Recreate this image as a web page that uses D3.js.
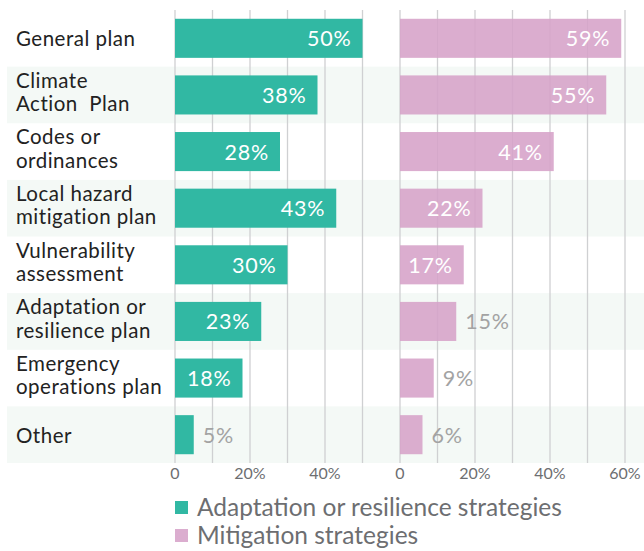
<!DOCTYPE html>
<html>
<head>
<meta charset="utf-8">
<script src="https://cdn.jsdelivr.net/npm/d3@7"></script>
<style>
  body { margin: 0; background: #fff; }
  svg { display: block; font-family: Lato, "Noto Sans", sans-serif; }
</style>
</head>
<body>
<div id="chart"></div>
<script>
// Dados do gráfico
const categories = [
    ["General plan"],
    ["Climate", "Action  Plan"],
    ["Codes or", "ordinances"],
    ["Local hazard", "mitigation plan"],
    ["Vulnerability", "assessment"],
    ["Adaptation or", "resilience plan"],
    ["Emergency", "operations plan"],
    ["Other"]
];
const adaptation = [50, 38, 28, 43, 30, 23, 18, 5];
const mitigation = [59, 55, 41, 22, 17, 15, 9, 6];
const leftTicks = [0, 20, 40];
const rightTicks = [0, 20, 40, 60];
const seriesNames = ["Adaptation or resilience strategies", "Mitigation strategies"];
const colors = ["#31b8a3", "#dbadcf"];

const width = 644, height = 551;
const svg = d3.select("#chart").append("svg")
    .attr("width", width)
    .attr("height", height);

const keys = categories.map((d, i) => i);
const y = d3.scaleBand().domain(keys).range([10, 463]).padding(0);
const bw = y.bandwidth();

const xLeft = d3.scaleLinear().domain([0, 50]).range([175, 362.5]);
const xRight = d3.scaleLinear().domain([0, 60]).range([400, 625]);

// Faixas alternadas
svg.selectAll(".band")
    .data(keys.filter(i => i % 2 === 1))
    .enter().append("rect")
    .attr("x", 7)
    .attr("y", i => y(i))
    .attr("width", width - 7)
    .attr("height", bw)
    .attr("fill", "#f4f9f6");

// Linhas de grade
function grid(x, maxV) {
    svg.append("g").selectAll("line")
        .data(d3.range(0, maxV + 1, 10))
        .enter().append("line")
        .attr("x1", d => x(d)).attr("x2", d => x(d))
        .attr("y1", 10).attr("y2", 463)
        .attr("stroke", "#cfd0d2")
        .attr("stroke-width", 1.3);
}
grid(xLeft, 50);
grid(xRight, 60);

// Barras
function bars(x, values, color, opacity) {
    const g = svg.append("g");
    g.selectAll("rect")
        .data(values)
        .enter().append("rect")
        .attr("x", x(0))
        .attr("y", (d, i) => y(i) + bw * 0.155)
        .attr("width", d => x(d) - x(0))
        .attr("height", bw * 0.69)
        .attr("fill", color)
        .attr("fill-opacity", opacity);

    g.selectAll("text")
        .data(values)
        .enter().append("text")
        .attr("x", d => d >= 16 ? x(d) - 11 : x(d) + 9)
        .attr("y", (d, i) => y(i) + bw / 2 + 8)
        .attr("text-anchor", d => d >= 16 ? "end" : "start")
        .attr("fill", d => d >= 16 ? "#fff" : "#a3a3a3")
        .style("font-size", "21.5px")
        .style("letter-spacing", "0.8px")
        .text(d => d + "%");
}
bars(xLeft, adaptation, colors[0], 1);
bars(xRight, mitigation, "#d6a2c8", 0.88);

// Rótulos das categorias
const labels = svg.append("g").selectAll("text")
    .data(categories)
    .enter().append("text")
    .attr("x", 16)
    .attr("y", (d, i) => y(i) + bw / 2)
    .attr("fill", "#222")
    .style("font-size", "20.5px")
    .style("letter-spacing", "0.5px");
labels.selectAll("tspan")
    .data(d => d.map((t, j) => ({ t, j, n: d.length })))
    .enter().append("tspan")
    .attr("x", 16)
    .attr("y", function(d) {
        const base = +d3.select(this.parentNode).attr("y");
        return d.n === 1 ? base + 8 : base + 4.5 + (d.j - 0.5) * 23.5;
    })
    .style("white-space", "pre")
    .text(d => d.t);

// Eixos
function axis(x, ticks) {
    svg.append("g").selectAll("text")
        .data(ticks)
        .enter().append("text")
        .attr("x", d => x(d))
        .attr("y", 479)
        .attr("text-anchor", "middle")
        .attr("fill", "#6d6e71")
        .style("font-size", "16px")
        .text(d => d === 0 ? "0" : d + "%");
}
axis(xLeft, leftTicks);
axis(xRight, rightTicks);

// Legenda
const legend = svg.append("g").selectAll("g")
    .data(seriesNames)
    .enter().append("g")
    .attr("transform", (d, i) => `translate(175, ${516 + i * 28})`);
legend.append("rect")
    .attr("x", 0).attr("y", -15)
    .attr("width", 13).attr("height", 13)
    .attr("fill", (d, i) => colors[i]);
legend.append("text")
    .attr("x", 22)
    .attr("y", 0)
    .attr("fill", "#6d6e71")
    .style("font-size", "24.5px")
    .text(d => d);
</script>
</body>
</html>
